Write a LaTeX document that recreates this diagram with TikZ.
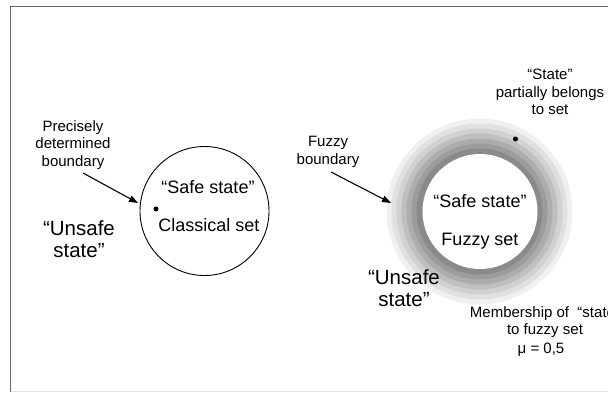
\documentclass[tikz,border=0pt]{standalone}
\usepackage{fontspec}
\setmainfont{Liberation Sans}
\usetikzlibrary{arrows.meta}
\definecolor{framegray}{HTML}{666666}
\definecolor{basegray}{HTML}{E4E4E4}
\tikzset{
  lbl/.style={inner sep=0pt, align=center, font=\fontsize{15}{17.5}\selectfont},
  big/.style={inner sep=0pt, align=center, font=\fontsize{20.5}{22.5}\selectfont},
  mid/.style={inner sep=0pt, align=center, font=\fontsize{18}{20}\selectfont},
  pointer/.style={line width=1.1pt, -{Triangle[length=9pt,width=6.5pt]}},
  statedot/.style={circle, fill=black, inner sep=0pt, minimum size=5pt},
}
\begin{document}
\begin{tikzpicture}[x=1pt, y=-1pt]
\useasboundingbox (0,0) rectangle (608,392);
% frame
\draw[framegray, line width=0.9pt] (10.5,392) -- (10.5,6.5) -- (608,6.5);
\draw[basegray, line width=0.8pt] (10.5,391) -- (608,391);

% ---- classical set ----
\node[circle, draw, line width=0.9pt, minimum size=129pt, inner sep=0pt] (cset) at (204.5,211) {};
\node[mid] (csafe) at (208,187) {“Safe state”};
\node[mid] (cname) at (209,225) {Classical set};
\node[statedot] (cdot) at (156,209) {};
\node[big] (cunsafe) at (79,239) {“Unsafe\\state”};
\node[lbl] (cbound) at (73,145) {Precisely\\determined\\boundary};
\coordinate (ctail) at (83,173);
\coordinate (ctip) at (138,203);
\draw[pointer] (ctail) -- (ctip);

% ---- fuzzy set: graded membership rings ----
\foreach \r/\c in {93/6,88/12,83/18,78/25,73/32,68/39,63/46}{
  \fill[black!\c] (479.5,211.5) circle[radius=\r];
}
\node[circle, fill=white, minimum size=115pt, inner sep=0pt] (fcore) at (480,211.5) {};
\node[mid] (fsafe) at (480,201) {“Safe state”};
\node[mid] (fname) at (480,241) {Fuzzy set};
\node[statedot] (fdot) at (515.5,139) {};
\node[big] (funsafe) at (404,288) {“Unsafe\\state”};
\node[lbl] (fbound) at (328,152) {Fuzzy\\boundary};
\coordinate (ftail) at (331,172);
\coordinate (ftip) at (391,203);
\draw[pointer] (ftail) -- (ftip);
\node[lbl] (partial) at (550,92) {“State”\\partially belongs\\to set};
\node[lbl] (member) at (545,322) {Membership of \ “state”\\to fuzzy set};
\node[lbl] (mu) at (541,350) {μ = 0,5};
\end{tikzpicture}
\end{document}
